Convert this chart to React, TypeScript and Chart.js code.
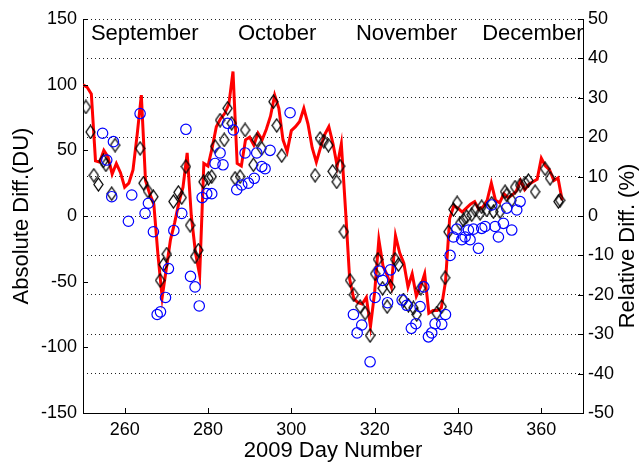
import { useEffect, useRef } from "react";
import { Chart, registerables } from "chart.js";
Chart.register(...registerables);

const lineDays = [250,251,252,253,254,255,256,257,258,259,260,261,262,263,264,265,266,267,268,269,270,271,272,273,274,275,276,277,278,279,280,281,282,283,284,285,286,287,288,289,290,291,292,293,294,295,296,297,298,299,300,301,302,303,304,305,306,307,308,309,310,311,312,313,314,315,316,317,318,319,320,321,322,323,324,325,326,327,328,329,330,331,332,333,334,335,336,337,338,339,340,341,342,343,344,345,346,347,348,349,350,351,352,353,354,355,356,357,358,359,360,361,362,363,364,365];
const lineValues = [100,98,93,42,41,50,45,32,40,33,22,25,35,62,92,27,17,9,-30,-62,-40,-18,-5,10,22,48,0,-28,-45,40,38,52,68,74,78,85,110,40,38,58,60,54,63,58,66,76,92,82,58,49,65,68,72,82,70,52,41,52,62,68,55,38,55,5,-48,-63,-66,-67,-62,-84,-58,-18,-38,-45,-54,-15,-28,-36,-54,-44,-61,-54,-44,-74,-72,-72,-70,-50,-2,8,6,3,6,9,11,5,7,12,25,12,10,17,14,16,19,27,20,24,26,28,44,38,35,27,29,12];

const diamondDays = [250.7,251.8,252.6,253.7,254.9,255.5,256.9,257.7,263.7,264.5,265.6,266.9,268.5,269.3,270.1,271.7,272.9,273.7,274.7,275.7,276.9,277.7,278.9,280.1,280.9,281.7,282.9,283.9,284.7,285.7,286.5,287.7,288.9,290.9,291.7,292.9,295.7,296.5,297.7,305.7,306.9,307.8,308.9,309.9,310.9,311.7,312.6,314.1,315.0,316.5,317.7,318.9,320.1,320.8,321.9,323.0,323.8,324.9,325.7,326.9,328.1,329.3,330.1,331.1,334.9,336.1,336.9,337.7,338.9,339.8,340.5,341.3,342.1,343.3,344.1,345.3,345.7,346.9,348.1,348.5,350.1,351.3,351.7,352.9,353.7,354.9,356.1,356.9,358.5,360.9,362.1,364.1,364.5];
const diamondValues = [83,64,31,24,42,39,17,54,51.5,25,19,14.7,-49,-37,-29,11,18,14,37.6,-7,-31,-26,26,28.7,30,53,73,58,82,70.6,28.7,30,65.5,39,58,51.5,87,69,46,31,59,57,54,34,26,38,-12,-49,-60,-69,-74,-91,-44,-33,-55,-69,-54,-33,-37,-64,-68,-70,-75,-55,-74,-69,-47,-12,5,10,-5.6,-3,-0.5,1,4.6,2,7,4.6,9.7,3.3,3.3,18.5,16,12,22,23.6,25,27,18.5,36,28.7,11,12];

const circleDays = [254.7,255.7,257.3,256.9,260.9,261.7,263.7,264.9,265.7,266.9,267.8,268.6,269.8,270.5,271.8,273.7,274.7,275.8,276.9,277.9,278.6,279.7,280.9,281.7,282.9,283.6,284.7,286.1,286.9,288.1,288.9,289.7,291.1,291.7,292.9,293.7,294.9,299.7,314.9,315.8,316.9,318.9,320.1,321.1,321.9,323.1,323.8,326.6,327.7,328.8,329.9,330.9,331.8,332.9,333.7,334.5,336.1,337.0,338.1,338.9,339.7,340.9,341.7,342.5,342.9,343.7,344.9,345.7,346.5,348.1,348.9,349.7,350.9,351.7,352.9,354.1,354.9];
const circleValues = [63,42.6,56.6,14.7,-4,16,78,2,9.7,-12,-75,-73,-62,-40,-11,2,66,-46,-54,-68.5,14,17,17,40,48,39,70.6,65.5,20,23.6,48,25,28.7,48,37.6,36,50,78.6,-75,-89,-83,-111,-62,-42,-49,-66,-41,-64,-68,-85.5,-82,-69,-54,-92,-89,-82,-82.5,-75,-30,-16,-10,-18,-16,-10.7,-18,-10,-24.6,-9.4,-8,8.4,-8,-16,-5.6,6,-10.7,4.6,11];

const xTicks = [260, 280, 300, 320, 340, 360];
const leftTicks = [-150, -100, -50, 0, 50, 100, 150];
const rightTicks = [-50, -40, -30, -20, -10, 0, 10, 20, 30, 40, 50];
const monthNames = ["September", "October", "November", "December"];
const monthDays = [251.9, 287.2, 315.5, 345.8];

const FONT = "'Liberation Sans', Arial, sans-serif";

function makeDiamond(): HTMLCanvasElement {
  const c = document.createElement("canvas");
  c.width = 11;
  c.height = 15;
  const g = c.getContext("2d")!;
  g.strokeStyle = "#000";
  g.lineWidth = 1.3;
  g.beginPath();
  g.moveTo(5.5, 1);
  g.lineTo(10, 7.5);
  g.lineTo(5.5, 14);
  g.lineTo(1, 7.5);
  g.closePath();
  g.stroke();
  return c;
}

const extrasPlugin = {
  id: "extras",
  afterDraw(chart: any) {
    const { ctx, chartArea } = chart;
    const xs = chart.scales.x;
    const yl = chart.scales.y;
    const yr = chart.scales.y2;
    ctx.save();
    ctx.strokeStyle = "#000";
    ctx.lineWidth = 1;
    ctx.beginPath();
    const L = 5;
    leftTicks.forEach((v) => {
      const y = Math.round(yl.getPixelForValue(v)) + 0.5;
      ctx.moveTo(chartArea.left, y);
      ctx.lineTo(chartArea.left + L, y);
    });
    rightTicks.forEach((v) => {
      const y = Math.round(yr.getPixelForValue(v)) + 0.5;
      ctx.moveTo(chartArea.right, y);
      ctx.lineTo(chartArea.right - L, y);
    });
    xTicks.forEach((v) => {
      const x = Math.round(xs.getPixelForValue(v)) + 0.5;
      ctx.moveTo(x, chartArea.bottom);
      ctx.lineTo(x, chartArea.bottom - L);
    });
    ctx.stroke();

    ctx.fillStyle = "#000";
    ctx.font = `22px ${FONT}`;
    ctx.textAlign = "left";
    ctx.textBaseline = "alphabetic";
    monthNames.forEach((m, i) => {
      ctx.fillText(m, xs.getPixelForValue(monthDays[i]), chartArea.top + 21);
    });

    ctx.translate(628, (chartArea.top + chartArea.bottom) / 2 + 30);
    ctx.rotate(-Math.PI / 2);
    ctx.textAlign = "center";
    ctx.textBaseline = "middle";
    ctx.fillText("Relative Diff. (%)", 0, 0);
    ctx.restore();
  },
};

export default function App() {
  const ref = useRef<HTMLCanvasElement>(null);
  useEffect(() => {
    document.body.style.margin = "0";
    const diamond = makeDiamond();
    const chart = new Chart(ref.current!, {
      type: "scatter",
      data: {
        datasets: [
          {
            label: "circles",
            data: circleDays.map((d, i) => ({ x: d, y: circleValues[i] })),
            pointStyle: "circle",
            pointRadius: 5.2,
            pointBorderColor: "#0000ff",
            pointBackgroundColor: "rgba(0,0,0,0)",
            pointBorderWidth: 1.2,
            showLine: false,
          },
          {
            label: "diamonds",
            data: diamondDays.map((d, i) => ({ x: d, y: diamondValues[i] })),
            pointStyle: diamond as any,
            pointRadius: 5,
            showLine: false,
          },
          {
            label: "line",
            data: lineDays.map((d, i) => ({ x: d, y: lineValues[i] })),
            showLine: true,
            borderColor: "#ff0000",
            borderWidth: 3,
            pointRadius: 0,
            tension: 0,
          } as any,
        ],
      },
      options: {
        animation: false,
        responsive: false,
        events: [],
        layout: { padding: { top: 19, left: 0, right: 0, bottom: 0 } },
        plugins: { legend: { display: false }, tooltip: { enabled: false } },
        scales: {
          x: {
            type: "linear",
            position: "bottom",
            min: 250,
            max: 370,
            afterBuildTicks: (s: any) => {
              s.ticks = xTicks.map((v) => ({ value: v }));
            },
            afterFit: (s: any) => {
              s.height = 51;
            },
            grid: { display: false, drawTicks: false },
            border: { display: true, color: "#000", width: 1 },
            ticks: { color: "#000", font: { family: FONT, size: 18 }, padding: 6, maxRotation: 0 },
            title: {
              display: true,
              text: "2009 Day Number",
              color: "#000",
              font: { family: FONT, size: 22 },
              padding: { top: 0, bottom: 0 },
            },
          },
          y: {
            type: "linear",
            position: "left",
            min: -150,
            max: 150,
            afterBuildTicks: (s: any) => {
              s.ticks = leftTicks.map((v) => ({ value: v }));
            },
            afterFit: (s: any) => {
              s.width = 83;
            },
            grid: { display: false, drawTicks: false },
            border: { display: true, color: "#000", width: 1 },
            ticks: { color: "#000", font: { family: FONT, size: 18 }, padding: 6 },
            title: {
              display: true,
              text: "Absolute Diff.(DU)",
              color: "#000",
              font: { family: FONT, size: 22 },
              padding: { top: 9, bottom: 0 },
            },
          },
          y2: {
            type: "linear",
            position: "right",
            min: -50,
            max: 50,
            afterBuildTicks: (s: any) => {
              s.ticks = rightTicks.map((v) => ({ value: v }));
            },
            afterFit: (s: any) => {
              s.width = 57;
            },
            grid: { display: true, drawOnChartArea: true, drawTicks: false, color: "#222", lineWidth: 1 },
            border: { display: true, color: "#000", width: 1, dash: [1, 3] },
            ticks: { color: "#000", font: { family: FONT, size: 18 }, padding: 5 },
          },
        },
      },
      plugins: [extrasPlugin],
    });
    return () => chart.destroy();
  }, []);
  return (
    <canvas
      ref={ref}
      width={640}
      height={464}
      style={{ display: "block", position: "absolute", left: 0, top: 0 }}
    />
  );
}
